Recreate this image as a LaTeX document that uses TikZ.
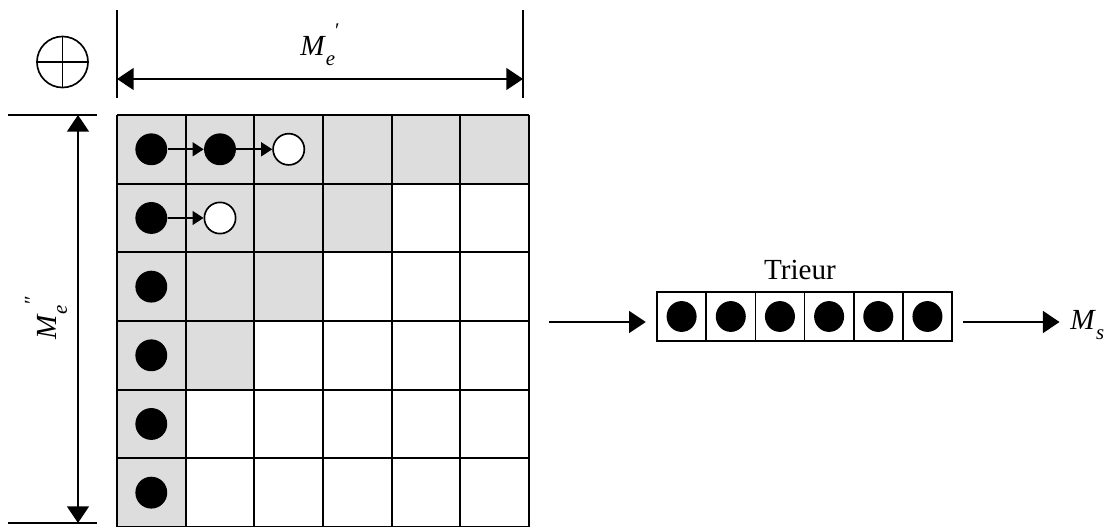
\documentclass[tikz,border=0pt]{standalone}
\usepackage{fontspec}
\setmainfont{Liberation Serif}
\usepackage{tikz}
\usetikzlibrary{arrows.meta,shapes.geometric}
\definecolor{G}{RGB}{221,221,221}
\newcommand{\cs}{68.67}
\newcommand{\drawthick}{\draw[line width=1pt]}
\newcommand{\graycells}[2]{\fill[G] (117,115+#1*\cs) rectangle ++(#2*\cs,\cs);}
\newcommand{\Mlab}[2]{\fontsize{14}{16}\selectfont\textit{M}\raisebox{-0.8ex}{\fontsize{10}{11}\selectfont\textit{#1}}\raisebox{1.3ex}{\fontsize{10}{11}\selectfont #2}}
\tikzset{
  full/.style={circle, fill=black, minimum size=15.3pt, inner sep=0pt},
  hollow/.style={circle, draw, fill=white, line width=0.8pt, minimum size=15pt, inner sep=0pt},
  slot/.style={draw, line width=0.8pt, minimum width=23.6pt, minimum height=23.5pt, inner sep=0pt},
  bead/.style={ellipse, fill=black, minimum width=14.4pt, minimum height=14.8pt, inner sep=0pt, outer sep=0pt},
  small/.style={line width=0.8pt, -{Triangle[length=5.3pt, width=6.7pt]}},
  big/.style={line width=0.8pt, -{Triangle[length=8pt, width=10.5pt]}},
  bigboth/.style={line width=0.8pt, {Triangle[length=8pt, width=10.5pt]}-{Triangle[length=8pt, width=10.5pt]}}
}
\begin{document}
\fontsize{14}{16}\selectfont
\begin{tikzpicture}[x=0.48pt, y=-0.48pt]
\useasboundingbox (0,0) rectangle (1110,527);
\graycells{0}{6}\graycells{1}{4}\graycells{2}{3}\graycells{3}{2}\graycells{4}{1}\graycells{5}{1}
\foreach \i in {0,...,6}{
  \drawthick (117+\i*\cs,115)--++(0,6*\cs);
  \drawthick (117,115+\i*\cs)--++(6*\cs,0);
}
\foreach \r in {0,...,5}{
  \node[full] (a\r) at (151.3,149.3+\r*\cs) {};
}
\node[full] (b0) at (220,149.3) {};
\node[hollow] (c0) at (288.7,149.3) {};
\node[hollow] (b1) at (220,218) {};
\draw[small] (a0) -- (b0);
\draw[small] (b0) -- (c0);
\draw[small] (a1) -- (b1);
\node[circle, draw, line width=0.8pt, minimum size=24.5pt, inner sep=0pt,
  path picture={\draw[line width=0.8pt] (path picture bounding box.north) -- (path picture bounding box.south)
  (path picture bounding box.west) -- (path picture bounding box.east);}] (xor) at (62.5,62) {};
\drawthick (117,10)--(117,98);
\drawthick (523,10)--(523,98);
\coordinate (tl) at (117,79);
\coordinate (tr) at (523,79);
\draw[bigboth] (tl) -- (tr);
\node (mh) at (320,45) {\Mlab{e}{′}};
\drawthick (8,115)--(97,115);
\drawthick (8,523)--(97,523);
\coordinate (lt) at (78,115);
\coordinate (lb) at (78,523);
\draw[bigboth] (lt) -- (lb);
\node[rotate=90] (mv) at (46,318) {\Mlab{e}{″}};
\foreach \k in {1,...,6}{
  \node[slot] (s\k) at (657+\k*49.17-24.58,316.5) {};
  \node[bead] at (s\k) {};
}
\node (trieur) at (800,270) {Trieur};
\coordinate (in) at (549,322);
\draw[big] (in) -- ([xshift=-5pt]s1.west |- in);
\node[anchor=west, inner sep=0pt] (ms) at (1070,325) {\Mlab{s}{}};
\draw[big, shorten <=5pt, shorten >=5pt] (s6.east |- in) -- (ms.west |- in);
\end{tikzpicture}
\end{document}
